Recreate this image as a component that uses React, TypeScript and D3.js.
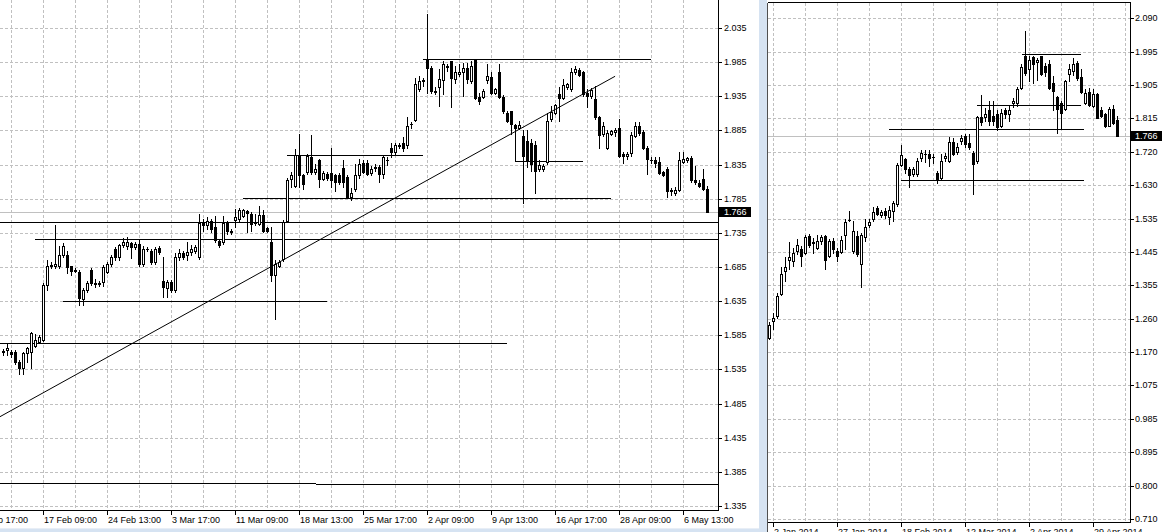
import React from 'react';
import * as d3 from 'd3';

// ---------- DATA ----------
// Left panel (intraday) candles: [open, high, low, close]
const leftCandles: [number, number, number, number][] = [
  [1.562,1.565,1.556,1.560],[1.563,1.573,1.556,1.566],[1.560,1.563,1.553,1.557],[1.560,1.563,1.543,1.546],
  [1.546,1.549,1.528,1.537],[1.537,1.560,1.528,1.559],[1.559,1.568,1.546,1.566],[1.561,1.590,1.537,1.588],
  [1.570,1.587,1.568,1.578],[1.575,1.585,1.573,1.583],[1.578,1.661,1.576,1.658],[1.658,1.695,1.651,1.687],
  [1.687,1.692,1.684,1.688],[1.686,1.746,1.683,1.689],[1.687,1.716,1.683,1.703],[1.702,1.720,1.699,1.716],
  [1.703,1.709,1.676,1.685],[1.686,1.687,1.674,1.679],[1.680,1.683,1.677,1.679],[1.677,1.680,1.630,1.639],
  [1.638,1.654,1.630,1.651],[1.652,1.664,1.649,1.661],[1.680,1.683,1.658,1.661],[1.661,1.668,1.655,1.660],
  [1.660,1.664,1.657,1.661],[1.663,1.688,1.657,1.685],[1.678,1.692,1.676,1.689],[1.690,1.702,1.687,1.700],
  [1.711,1.714,1.695,1.700],[1.700,1.719,1.695,1.717],[1.717,1.727,1.714,1.722],[1.716,1.729,1.712,1.721],
  [1.720,1.722,1.698,1.714],[1.714,1.722,1.711,1.719],[1.719,1.726,1.687,1.690],[1.690,1.716,1.686,1.712],
  [1.711,1.715,1.708,1.712],[1.709,1.712,1.689,1.692],[1.692,1.715,1.690,1.712],[1.713,1.716,1.704,1.707],
  [1.664,1.700,1.641,1.656],[1.654,1.666,1.641,1.663],[1.663,1.666,1.648,1.651],[1.651,1.706,1.648,1.700],
  [1.700,1.712,1.695,1.706],[1.706,1.709,1.696,1.699],[1.702,1.721,1.695,1.707],[1.707,1.717,1.702,1.711],
  [1.709,1.717,1.706,1.714],[1.699,1.763,1.697,1.749],[1.749,1.756,1.738,1.747],[1.746,1.758,1.741,1.753],
  [1.753,1.756,1.736,1.741],[1.743,1.760,1.721,1.724],[1.723,1.725,1.714,1.717],[1.721,1.760,1.719,1.749],
  [1.749,1.753,1.734,1.737],[1.738,1.740,1.734,1.736],[1.754,1.770,1.744,1.758],[1.755,1.772,1.753,1.768],
  [1.760,1.770,1.758,1.768],[1.767,1.768,1.736,1.764],[1.763,1.765,1.738,1.748],[1.749,1.763,1.747,1.750],
  [1.748,1.774,1.746,1.761],[1.761,1.768,1.736,1.738],[1.742,1.744,1.736,1.738],[1.721,1.743,1.665,1.673],
  [1.673,1.695,1.609,1.690],[1.687,1.695,1.685,1.692],[1.697,1.754,1.694,1.751],[1.753,1.815,1.751,1.812],
  [1.814,1.824,1.802,1.819],[1.804,1.858,1.802,1.849],[1.848,1.880,1.802,1.819],[1.819,1.821,1.799,1.807],
  [1.824,1.850,1.821,1.848],[1.846,1.879,1.821,1.824],[1.824,1.836,1.821,1.829],[1.841,1.843,1.802,1.814],
  [1.814,1.825,1.812,1.822],[1.821,1.824,1.812,1.816],[1.822,1.860,1.802,1.812],[1.819,1.821,1.797,1.809],
  [1.819,1.822,1.806,1.809],[1.830,1.841,1.802,1.809],[1.817,1.820,1.787,1.788],[1.788,1.800,1.783,1.794],
  [1.799,1.836,1.797,1.819],[1.819,1.843,1.816,1.836],[1.838,1.841,1.822,1.824],[1.838,1.841,1.819,1.821],
  [1.822,1.833,1.819,1.829],[1.831,1.836,1.826,1.830],[1.831,1.834,1.809,1.821],[1.821,1.848,1.816,1.846],
  [1.841,1.846,1.834,1.842],[1.860,1.867,1.846,1.854],[1.854,1.867,1.850,1.864],[1.863,1.866,1.859,1.862],
  [1.866,1.875,1.855,1.860],[1.863,1.904,1.860,1.892],[1.894,1.897,1.889,1.895],[1.900,1.962,1.899,1.953],
  [1.945,1.965,1.943,1.958],[1.958,1.962,1.950,1.959],[1.988,2.055,1.940,1.977],[1.977,1.980,1.940,1.943],
  [1.943,1.948,1.938,1.942],[1.949,1.975,1.921,1.960],[1.959,1.987,1.938,1.982],[1.978,1.982,1.972,1.979],
  [1.986,1.987,1.919,1.962],[1.960,1.979,1.955,1.970],[1.967,1.982,1.965,1.971],[1.971,1.984,1.936,1.976],
  [1.976,1.984,1.955,1.960],[1.958,1.987,1.955,1.979],[1.988,1.989,1.931,1.933],[1.934,1.940,1.923,1.928],
  [1.934,1.945,1.933,1.943],[1.959,1.982,1.955,1.965],[1.963,1.970,1.938,1.940],[1.940,1.947,1.938,1.945],
  [1.970,1.982,1.932,1.934],[1.934,1.937,1.911,1.914],[1.911,1.914,1.897,1.899],[1.913,1.914,1.880,1.894],
  [1.893,1.895,1.886,1.889],[1.888,1.899,1.887,1.893],[1.877,1.885,1.778,1.847],[1.870,1.886,1.832,1.841],
  [1.867,1.873,1.826,1.836],[1.863,1.870,1.793,1.826],[1.829,1.841,1.826,1.835],[1.828,1.836,1.826,1.833],
  [1.839,1.911,1.836,1.899],[1.902,1.921,1.899,1.912],[1.911,1.924,1.909,1.922],[1.938,1.948,1.899,1.932],
  [1.933,1.960,1.931,1.951],[1.949,1.954,1.945,1.953],[1.945,1.977,1.943,1.970],[1.970,1.980,1.967,1.975],
  [1.974,1.977,1.965,1.966],[1.970,1.972,1.936,1.938],[1.940,1.946,1.919,1.936],[1.936,1.947,1.933,1.944],
  [1.931,1.950,1.902,1.904],[1.904,1.906,1.859,1.878],[1.880,1.897,1.877,1.891],[1.859,1.885,1.858,1.881],
  [1.880,1.886,1.878,1.884],[1.882,1.888,1.877,1.886],[1.888,1.902,1.846,1.848],[1.850,1.853,1.837,1.847],
  [1.848,1.853,1.843,1.851],[1.852,1.882,1.848,1.878],[1.877,1.898,1.875,1.891],[1.891,1.897,1.878,1.881],
  [1.883,1.885,1.858,1.860],[1.860,1.862,1.821,1.843],[1.842,1.846,1.838,1.841],[1.841,1.846,1.831,1.837],
  [1.839,1.846,1.821,1.823],[1.824,1.826,1.818,1.820],[1.829,1.831,1.787,1.797],[1.796,1.800,1.790,1.798],
  [1.794,1.802,1.790,1.798],[1.798,1.853,1.797,1.841],[1.839,1.853,1.838,1.843],[1.841,1.846,1.839,1.844],
  [1.845,1.848,1.809,1.812],[1.812,1.833,1.807,1.809],[1.808,1.812,1.802,1.803],[1.814,1.829,1.798,1.799],
  [1.799,1.804,1.766,1.766],
];

// Right panel (daily) candles: [open, high, low, close]
const rightCandles: [number, number, number, number][] = [
  [1.208,1.253,1.205,1.246],[1.257,1.278,1.235,1.263],[1.269,1.332,1.264,1.324],[1.329,1.405,1.327,1.386],
  [1.393,1.432,1.366,1.404],[1.425,1.473,1.398,1.432],[1.421,1.457,1.407,1.442],[1.448,1.483,1.439,1.464],
  [1.453,1.462,1.407,1.435],[1.444,1.494,1.439,1.487],[1.491,1.495,1.460,1.465],[1.473,1.485,1.444,1.472],
  [1.457,1.494,1.453,1.476],[1.476,1.494,1.467,1.487],[1.490,1.494,1.398,1.425],[1.435,1.481,1.431,1.476],
  [1.476,1.485,1.444,1.453],[1.448,1.457,1.421,1.435],[1.445,1.490,1.444,1.480],[1.492,1.536,1.453,1.528],
  [1.534,1.560,1.531,1.535],[1.450,1.531,1.444,1.505],[1.491,1.503,1.435,1.439],[1.413,1.497,1.350,1.494],
  [1.487,1.538,1.476,1.516],[1.519,1.537,1.516,1.528],[1.538,1.569,1.531,1.556],[1.566,1.573,1.548,1.552],
  [1.547,1.562,1.542,1.556],[1.560,1.567,1.540,1.547],[1.542,1.573,1.523,1.563],[1.558,1.586,1.531,1.581],
  [1.577,1.691,1.573,1.687],[1.687,1.742,1.682,1.713],[1.701,1.705,1.664,1.676],[1.675,1.680,1.625,1.658],
  [1.660,1.679,1.655,1.674],[1.660,1.704,1.655,1.696],[1.705,1.726,1.696,1.719],[1.716,1.726,1.694,1.717],
  [1.717,1.726,1.682,1.705],[1.708,1.715,1.692,1.707],[1.664,1.669,1.636,1.647],[1.649,1.715,1.646,1.696],
  [1.705,1.719,1.696,1.710],[1.696,1.762,1.694,1.748],[1.748,1.760,1.713,1.715],[1.721,1.747,1.716,1.735],
  [1.751,1.768,1.744,1.760],[1.765,1.771,1.735,1.744],[1.746,1.770,1.729,1.735],[1.718,1.724,1.606,1.689],
  [1.696,1.820,1.692,1.817],[1.817,1.878,1.795,1.804],[1.819,1.843,1.806,1.826],[1.838,1.861,1.797,1.808],
  [1.820,1.861,1.797,1.808],[1.827,1.838,1.781,1.790],[1.793,1.841,1.790,1.829],[1.838,1.843,1.815,1.826],
  [1.826,1.848,1.808,1.838],[1.857,1.869,1.845,1.863],[1.857,1.900,1.848,1.894],[1.898,1.964,1.894,1.955],
  [1.985,2.054,1.935,1.939],[1.949,1.985,1.916,1.976],[1.982,1.985,1.912,1.964],[1.970,1.981,1.921,1.976],
  [1.985,1.987,1.935,1.937],[1.958,1.967,1.930,1.942],[1.964,1.976,1.895,1.898],[1.912,1.930,1.836,1.891],
  [1.872,1.875,1.774,1.839],[1.857,1.861,1.786,1.829],[1.839,1.921,1.836,1.918],[1.937,1.963,1.916,1.949],
  [1.944,1.981,1.935,1.964],[1.967,1.971,1.921,1.926],[1.927,1.949,1.884,1.887],[1.857,1.894,1.854,1.884],
  [1.886,1.898,1.848,1.850],[1.848,1.894,1.845,1.880],[1.880,1.884,1.814,1.815],[1.836,1.845,1.817,1.820],
  [1.826,1.829,1.790,1.794],[1.794,1.845,1.792,1.841],[1.841,1.852,1.799,1.802],[1.811,1.820,1.766,1.766],
];

const lastPrice = 1.766;

// Left price axis ticks
const leftPriceTicks = [1.335, 1.385, 1.435, 1.485, 1.535, 1.585, 1.635, 1.685, 1.735, 1.785, 1.835, 1.885, 1.935, 1.985, 2.035];
// Left time labels (bar index at which each label sits)
const leftDateLabels = ["7 Feb 17:00", "17 Feb 09:00", "24 Feb 13:00", "3 Mar 17:00", "11 Mar 09:00", "18 Mar 13:00",
  "25 Mar 17:00", "2 Apr 09:00", "9 Apr 13:00", "16 Apr 17:00", "28 Apr 09:00", "6 May 13:00"];
const leftDateLabelBars = [-6, 10, 26, 42, 58, 74, 90, 106, 122, 138, 154, 170];
const leftGridBars = d3.range(2, 177, 8);

// Right price axis labels (evenly spaced from 0.710 to 2.090)
const rightPriceLabels = ["0.710", "0.800", "0.895", "0.985", "1.075", "1.170", "1.260", "1.355",
  "1.445", "1.535", "1.630", "1.720", "1.815", "1.905", "1.995", "2.090"];
const rightDateLabels = ["2 Jan 2014", "27 Jan 2014", "18 Feb 2014", "12 Mar 2014", "2 Apr 2014", "29 Apr 2014"];
const rightDateLabelBars = [1, 17, 33, 49, 65, 81];
const rightGridBars = d3.range(1, 90, 8);

// Drawn horizontal levels: [startBar, endBar, price]
const leftLevels: [number, number, number][] = [
  [104.9, 161.9, 1.989],
  [70.9, 104.9, 1.849],
  [59.9, 151.9, 1.7865],
  [-1, 180, 1.7505],
  [7.9, 180, 1.7256],
  [14.9, 80.9, 1.6357],
  [-1, 125.9, 1.5733],
  [-1, 78.1, 1.3685],
  [78.1, 180, 1.367],
];
const leftBracket: [number, number][] = [[128, 1.893], [128, 1.839], [144.9, 1.839]];
const leftTrend: [number, number][] = [[-0.875, 1.4658], [152.9, 1.9643]];

const rightLevels: [number, number, number][] = [
  [63.05, 77.8, 1.9916],
  [51.9, 77.8, 1.8502],
  [29.95, 78.7, 1.7849],
  [32.95, 78.7, 1.6435],
];

// ---------- STYLE ----------
const FONT = '"Liberation Sans", Arial, sans-serif';
const FS = 9;
const GRID = '#c0c0c0';
const FRAME = '#d6e3f2';

type Scale = d3.ScaleLinear<number, number>;

function Candles({ data, x, y }: { data: [number, number, number, number][]; x: Scale; y: Scale }) {
  return (
    <g shapeRendering="crispEdges">
      {data.map((d, i) => {
        const [o, h, l, c] = d;
        const cx = x(i);
        const yh = Math.round(y(h));
        const yl = Math.round(y(l));
        const yo = Math.round(y(o));
        const yc = Math.round(y(c));
        const top = Math.min(yo, yc);
        const bot = Math.max(yo, yc);
        const bull = c >= o;
        return (
          <g key={i}>
            <line x1={cx} x2={cx} y1={yh} y2={yl + 1} stroke="#000" strokeWidth={1} />
            {bot - top < 1 ? (
              <line x1={cx - 1.5} x2={cx + 1.5} y1={top + 0.5} y2={top + 0.5} stroke="#000" strokeWidth={1} />
            ) : (
              <rect x={cx - 1} y={top + 0.5} width={2} height={bot - top} fill={bull ? '#fff' : '#000'} stroke="#000" strokeWidth={1} />
            )}
          </g>
        );
      })}
    </g>
  );
}

export default function App() {
  // Left panel geometry
  const L = { x0: 0, x1: 718.5, yTop: 0, yBot: 510.5 };
  const lx = d3.scaleLinear().domain([0, 1]).range([3.5, 7.5]);
  const ly = d3.scaleLinear().domain([1.335, 2.035]).range([506, 28]);

  // Right panel geometry
  const R = { x0: 767.5, x1: 1130.5, yTop: 2.5, yBot: 522.5 };
  const rx = d3.scaleLinear().domain([0, 1]).range([769.5, 773.5]);
  const ry = d3.scaleLinear().domain([0.710, 2.090]).range([519, 18.3]);
  const rStep = (2.090 - 0.710) / 15;

  const crisp = (v: number) => Math.round(v) + 0.5;
  const lineGen = (xs: Scale, ys: Scale) =>
    d3.line<[number, number]>().x((d) => xs(d[0])).y((d) => ys(d[1]));

  return (
    <svg width={1170} height={532} style={{ position: 'absolute', left: 0, top: 0, display: 'block', background: '#fff' }}
      fontFamily={FONT} fontSize={FS}>
      <defs>
        <clipPath id="clipL"><rect x={0} y={0} width={718} height={510} /></clipPath>
        <clipPath id="clipR"><rect x={768} y={3} width={362} height={519} /></clipPath>
      </defs>
      <rect x={0} y={0} width={1170} height={532} fill="#fff" />

      {/* ===== LEFT PANEL ===== */}
      <g clipPath="url(#clipL)">
        <g shapeRendering="crispEdges" stroke={GRID} strokeDasharray="3,2">
          {leftPriceTicks.map((p) => (
            <line key={'lh' + p} x1={0} x2={718} y1={crisp(ly(p))} y2={crisp(ly(p))} />
          ))}
          {leftGridBars.map((b) => (
            <line key={'lv' + b} x1={lx(b)} x2={lx(b)} y1={0} y2={510} />
          ))}
        </g>
        {/* last price line */}
        <line x1={0} x2={718} y1={crisp(ly(lastPrice))} y2={crisp(ly(lastPrice))} stroke="#c0c0c0" shapeRendering="crispEdges" />
        {/* horizontal levels */}
        <g stroke="#000" shapeRendering="crispEdges">
          {leftLevels.map((d, i) => (
            <line key={'ll' + i} x1={lx(d[0])} x2={lx(d[1])} y1={crisp(ly(d[2]))} y2={crisp(ly(d[2]))} />
          ))}
          <path d={lineGen(lx, ly)(leftBracket.map((d) => [d[0], d[1]]) as [number, number][]) || ''}
            fill="none" transform="translate(0,0)" />
        </g>
        <Candles data={leftCandles} x={lx} y={ly} />
        <path d={lineGen(lx, ly)(leftTrend) || ''} stroke="#000" strokeWidth={1} fill="none" />
      </g>

      {/* left axes */}
      <g shapeRendering="crispEdges" stroke="#000">
        <line x1={L.x1} x2={L.x1} y1={0} y2={L.yBot} />
        <line x1={0} x2={L.x1} y1={L.yBot} y2={L.yBot} />
        {leftPriceTicks.map((p) => (
          <line key={'lt' + p} x1={L.x1} x2={L.x1 + 3} y1={crisp(ly(p))} y2={crisp(ly(p))} />
        ))}
        {leftDateLabelBars.map((b) => (
          <line key={'ldt' + b} x1={lx(b)} x2={lx(b)} y1={L.yBot} y2={L.yBot + 4} />
        ))}
      </g>
      <g fill="#000">
        {leftPriceTicks.map((p) => (
          <text key={'lpl' + p} x={724} y={ly(p)} dominantBaseline="central">{p.toFixed(3)}</text>
        ))}
        {leftDateLabels.map((t, i) => (
          <text key={'ldl' + i} x={lx(leftDateLabelBars[i]) + 0.5} y={523}>{t}</text>
        ))}
      </g>
      {/* last price box left */}
      <rect x={719} y={Math.round(ly(lastPrice)) - 5} width={32} height={10} fill="#000" />
      <text x={724} y={ly(lastPrice)} dominantBaseline="central" fill="#fff">{lastPrice.toFixed(3)}</text>

      {/* frame between panels and bottom strip */}
      <rect x={759} y={0} width={8} height={532} fill={FRAME} />
      <rect x={0} y={529} width={759} height={3} fill={FRAME} />
      <line x1={0} x2={759} y1={528.5} y2={528.5} stroke="#e8eef6" shapeRendering="crispEdges" />

      {/* ===== RIGHT PANEL ===== */}
      <g clipPath="url(#clipR)">
        <g shapeRendering="crispEdges" stroke={GRID} strokeDasharray="3,2">
          {rightPriceLabels.map((_, k) => (
            <line key={'rh' + k} x1={768} x2={1130} y1={crisp(ry(0.710 + k * rStep))} y2={crisp(ry(0.710 + k * rStep))} />
          ))}
          {rightGridBars.map((b) => (
            <line key={'rv' + b} x1={rx(b)} x2={rx(b)} y1={3} y2={522} />
          ))}
        </g>
        <line x1={768} x2={1130} y1={crisp(ry(lastPrice))} y2={crisp(ry(lastPrice))} stroke="#c0c0c0" shapeRendering="crispEdges" />
        <g stroke="#000" shapeRendering="crispEdges">
          {rightLevels.map((d, i) => (
            <line key={'rl' + i} x1={rx(d[0])} x2={rx(d[1])} y1={crisp(ry(d[2]))} y2={crisp(ry(d[2]))} />
          ))}
        </g>
        <Candles data={rightCandles} x={rx} y={ry} />
      </g>

      {/* right frame + axes */}
      <g shapeRendering="crispEdges" stroke="#000">
        <line x1={R.x0} x2={R.x0} y1={R.yTop} y2={532} stroke="#505050" />
        <line x1={R.x0} x2={R.x1} y1={R.yTop} y2={R.yTop} />
        <line x1={R.x1} x2={R.x1} y1={R.yTop} y2={R.yBot} />
        <line x1={R.x0} x2={R.x1} y1={R.yBot} y2={R.yBot} />
        {rightPriceLabels.map((_, k) => (
          <line key={'rt' + k} x1={R.x1} x2={R.x1 + 3} y1={crisp(ry(0.710 + k * rStep))} y2={crisp(ry(0.710 + k * rStep))} />
        ))}
        {rightDateLabelBars.map((b) => (
          <line key={'rdt' + b} x1={rx(b)} x2={rx(b)} y1={R.yBot} y2={R.yBot + 4} />
        ))}
      </g>
      <g fill="#000">
        {rightPriceLabels.map((t, k) => (
          <text key={'rpl' + k} x={1135} y={ry(0.710 + k * rStep)} dominantBaseline="central">{t}</text>
        ))}
        {rightDateLabels.map((t, i) => (
          <text key={'rdl' + i} x={rx(rightDateLabelBars[i]) + 0.5} y={535}>{t}</text>
        ))}
      </g>
      <rect x={1131} y={Math.round(ry(lastPrice)) - 5} width={31} height={10} fill="#000" />
      <text x={1135} y={ry(lastPrice)} dominantBaseline="central" fill="#fff">{lastPrice.toFixed(3)}</text>
    </svg>
  );
}
